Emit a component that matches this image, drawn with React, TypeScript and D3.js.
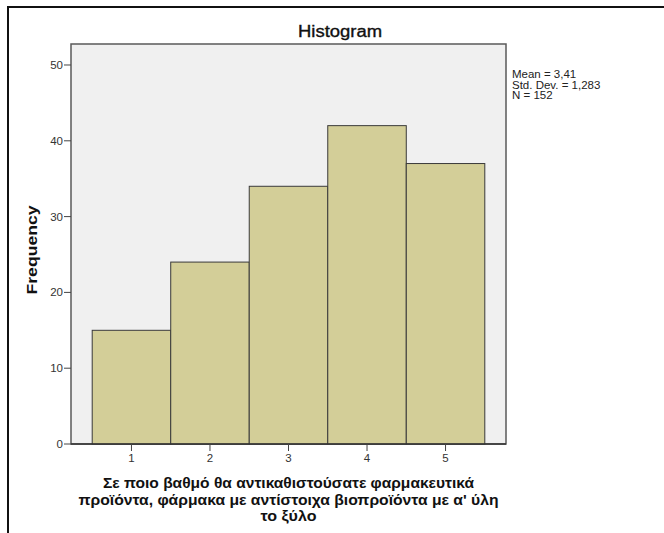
import React from "react";
import * as d3 from "d3";

const categories = [1, 2, 3, 4, 5];
const frequencies = [15, 24, 34, 42, 37];
const yTicks = [0, 10, 20, 30, 40, 50];
const statsLines = ["Mean = 3,41", "Std. Dev. = 1,283", "N = 152"];
const xLabelLines = [
  "Σε ποιο βαθμό θα αντικαθιστούσατε φαρμακευτικά",
  "προϊόντα, φάρμακα με αντίστοιχα βιοπροϊόντα με α' ύλη",
  "το ξύλο",
];
const xLabelWidths = [371, 420, 56];

export default function App() {
  const W = 664, H = 533;
  const left = 71, right = 506, top = 44, bottom = 444;
  const x = d3.scaleLinear().domain([0.23, 5.77]).range([left, right]);
  const y = d3.scaleLinear().domain([0, 52.77]).range([bottom, top]);
  const font = "Arial, 'Liberation Sans', sans-serif";
  const cx = (left + right) / 2;

  return (
    <svg width={W} height={H} style={{ position: "absolute", left: 0, top: 0, background: "#fff" }} fontFamily={font}>
      <path d={`M8,${H} V7 H${W}`} fill="none" stroke="#111" strokeWidth={2} />
      <text x={340} y={37} textAnchor="middle" fontSize={16} fill="#111" stroke="#111" strokeWidth={0.35}
        textLength={84} lengthAdjust="spacingAndGlyphs">Histogram</text>
      <rect x={left} y={top} width={right - left} height={bottom - top} fill="#f0f0f0" stroke="#5a5a5a" strokeWidth={1.5} />
      {categories.map((c, i) => (
        <rect key={c} x={x(c - 0.5)} y={y(frequencies[i])} width={x(c + 0.5) - x(c - 0.5)} height={y(0) - y(frequencies[i])}
          fill="#d3ce98" stroke="#3a3a3a" strokeWidth={1} />
      ))}
      <line x1={left} x2={right} y1={bottom} y2={bottom} stroke="#333" strokeWidth={1.5} />
      {yTicks.map(t => (
        <g key={t}>
          <line x1={left - 7} x2={left} y1={y(t)} y2={y(t)} stroke="#444" strokeWidth={1} />
          <text x={left - 8} y={y(t) + 4} textAnchor="end" fontSize={11.5} fill="#333">{t}</text>
        </g>
      ))}
      {categories.map(c => (
        <g key={c}>
          <line x1={x(c)} x2={x(c)} y1={bottom} y2={bottom + 7} stroke="#444" strokeWidth={1} />
          <text x={x(c)} y={bottom + 18} textAnchor="middle" fontSize={11.5} fill="#333">{c}</text>
        </g>
      ))}
      <text transform={`translate(37,${(top + bottom) / 2 + 6}) rotate(-90)`} textAnchor="middle" fontSize={14} fontWeight="bold" fill="#111"
        textLength={89} lengthAdjust="spacingAndGlyphs">Frequency</text>
      {statsLines.map((s, i) => (
        <text key={s} x={512} y={78 + i * 10.5} fontSize={11.5} fill="#222">{s}</text>
      ))}
      {xLabelLines.map((s, i) => (
        <text key={i} x={cx} y={488 + i * 16.5} textAnchor="middle" fontSize={14.5} fontWeight="bold" fill="#111"
          textLength={xLabelWidths[i]} lengthAdjust="spacingAndGlyphs">{s}</text>
      ))}
    </svg>
  );
}
